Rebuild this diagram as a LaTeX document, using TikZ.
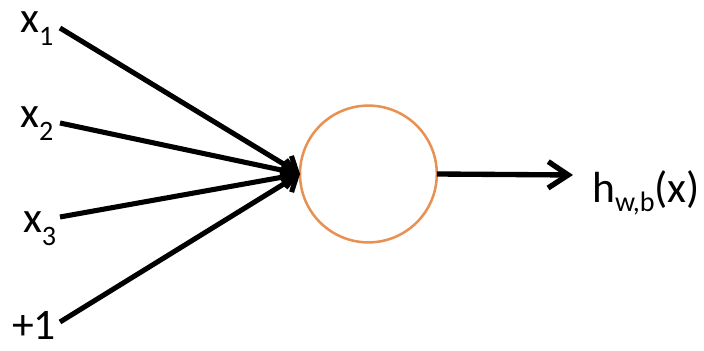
\documentclass[tikz,border=0pt]{standalone}
\usepackage{fontspec}
\setmainfont{Carlito}
\usetikzlibrary{arrows.meta, positioning}
\definecolor{cellorange}{RGB}{232,145,82}
\newcommand{\sub}[2][9pt]{\raisebox{-#1}{\fontsize{20}{20}\selectfont #2}}

\begin{document}
\begin{tikzpicture}[
        unit/.style={circle, draw=cellorange, line width=1.8pt, minimum size=3.42cm, inner sep=0pt, outer sep=0pt},
        lbl/.style={anchor=base west, inner sep=0pt, font=\fontsize{31}{36}\selectfont},
        wire/.style={line width=3.6pt, -{Straight Barb[length=0.32cm, width=0.55cm]}},
        outwire/.style={line width=3.8pt, -{Straight Barb[length=0.5cm, width=0.66cm]}}
    ]
        \useasboundingbox (0,0) rectangle (17.6,8.775);

        \node[unit] (neuron) at (9.21,4.425) {};

        % inputs
        \node[lbl] (x1) at (0.5,7.95) {x\sub{1}};
        \node[lbl] (x2) at (0.5,5.575) {x\sub{2}};
        \node[lbl] (x3) at (0.57,2.95) {x\sub{3}};
        \node[lbl] (bias) at (0.3,0.28) {+1};

        \coordinate (s1) at (1.5,8.075);
        \coordinate (s2) at (1.5,5.7);
        \coordinate (s3) at (1.5,3.35);
        \coordinate (s4) at (1.5,0.725);

        \foreach \s in {s1,s2,s3,s4}
            \draw[wire] (\s) -- (neuron.west);

        % output
        \coordinate (tip) at (14.325,4.4);
        \draw[outwire] (neuron.east) -- (tip);
        \node[lbl] (out) at (14.8,3.7) {h\sub[6pt]{w,b}(x)};
    \end{tikzpicture}
\end{document}
